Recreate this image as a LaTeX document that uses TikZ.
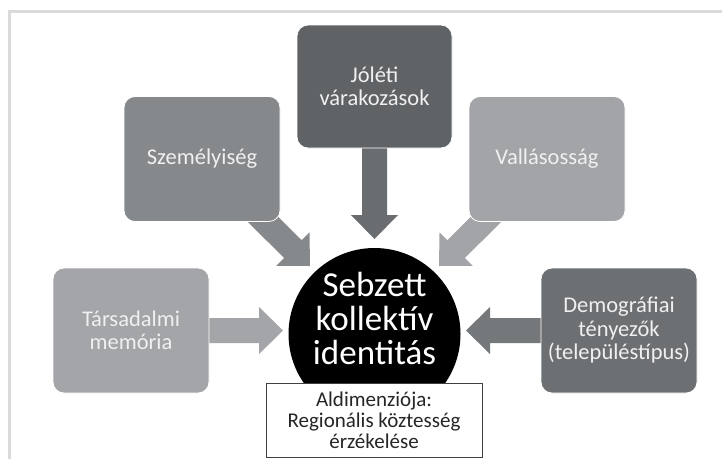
\documentclass[tikz,border=0pt]{standalone}
\usepackage{fontspec}
\setmainfont{Carlito}
\usetikzlibrary{calc,backgrounds}

\definecolor{cJol}{HTML}{5F6366}
\definecolor{cJolA}{HTML}{6A6D70}
\definecolor{cSzem}{HTML}{86898C}
\definecolor{cVal}{HTML}{A2A4A7}
\definecolor{cTar}{HTML}{A3A5A8}
\definecolor{cDem}{HTML}{6D7073}
\definecolor{cDemA}{HTML}{75787B}
\definecolor{cFrame}{HTML}{DADADA}
\definecolor{cBoxText}{HTML}{F0F0F0}

\newcommand{\bigarrow}[3]{% #1 start node, #2 tip coordinate, #3 colour
  \coordinate (hb) at ($(#2)!24pt!(#1)$);
  \fill[#3] ($(#1)!12.5pt!90:(#2)$) -- ($(hb)!12.5pt!-90:(#1)$) -- ($(hb)!23.5pt!-90:(#1)$)
    -- (#2) -- ($(hb)!23.5pt!90:(#1)$) -- ($(hb)!12.5pt!90:(#1)$) -- ($(#1)!12.5pt!-90:(#2)$) -- cycle;
}

\begin{document}
\begin{tikzpicture}[x=1pt,y=-1pt,
  box/.style={rounded corners=11pt, draw=white, line width=0.8pt,
    minimum width=155pt, minimum height=124pt, text=cBoxText,
    font=\fontsize{22.5}{23.5}\selectfont, align=center, inner sep=0pt},
  sub/.style={draw=black!75, fill=white, line width=0.8pt, minimum width=216pt,
    minimum height=74pt, align=center, inner sep=0pt,
    font=\fontsize{21}{21}\selectfont, text=black!85},
  core/.style={circle, fill=black, minimum size=172pt, inner sep=0pt},
  coretext/.style={text=white, align=center, inner sep=0pt, font=\fontsize{35}{34}\selectfont}
]
\useasboundingbox (0,0) rectangle (722,459);

\node[box, fill=cJol, minimum height=123pt] (j) at (374.5,86.5) {Jóléti\\várakozások};
\node[box, fill=cSzem, minimum height=125pt, minimum width=156pt] (sz) at (202,159) {Személyiség};
\node[box, fill=cVal, minimum height=125pt, minimum width=156pt] (v) at (547,159) {Vallásosság};
\node[box, fill=cTar, minimum height=125pt, minimum width=156pt] (t) at (131,330.5) {Társadalmi\\memória};
\node[box, fill=cDem, minimum height=125pt, minimum width=156pt] (d) at (619,330.5) {Demográfiai\\tényezők\\(településtípus)};
\node[core] (c) at (374.5,334) {};
\node[coretext] (ct) at (374.5,318) {Sebzett\\kollektív\\identitás};
\node[sub] (al) at (374,420) {Aldimenziója:\\Regionális köztesség\\érzékelése};

\coordinate (jtip) at (374.5,239);
\coordinate (sztip) at (310,266);
\coordinate (vtip) at (439,266);
\coordinate (ttip) at (283,330.5);
\coordinate (dtip) at (466,330.5);

\begin{scope}[on background layer]
  \fill[white] (0,0) rectangle (722,459);
  \draw[cFrame, line width=2.2pt] (9.5,459) -- (9.5,11.5) -- (722,11.5);
  \bigarrow{j.center}{jtip}{cJolA}
  \bigarrow{sz.center}{sztip}{cSzem}
  \bigarrow{v.center}{vtip}{cVal}
  \bigarrow{t.center}{ttip}{cTar}
  \bigarrow{d.center}{dtip}{cDemA}
\end{scope}
\end{tikzpicture}
\end{document}
